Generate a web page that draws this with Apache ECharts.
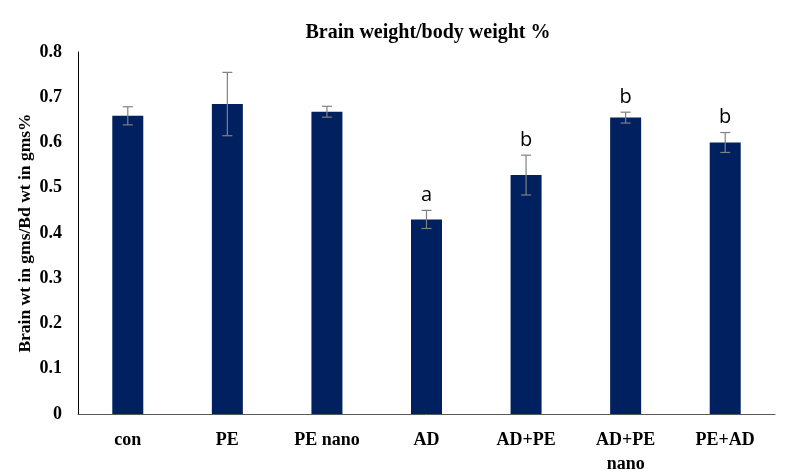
<!DOCTYPE html>
<html>
<head>
<meta charset="utf-8">
<script src="https://cdn.jsdelivr.net/npm/echarts@6/dist/echarts.min.js"></script>
<style>
  html, body { margin: 0; padding: 0; background: #fff; }
  #chart-wrapper { width: 787px; height: 476px; }
</style>
</head>
<body>
<div id="chart-wrapper"></div>
<script>
// data
const categories = ["con", "PE", "PE nano", "AD", "AD+PE", "AD+PE\nnano", "PE+AD"];
const means = [0.659, 0.685, 0.668, 0.430, 0.528, 0.655, 0.600];
const errors = [0.02, 0.07, 0.012, 0.02, 0.044, 0.012, 0.022];
const letters = ["", "", "", "a", "b", "b", "b"];

const serif = "'Liberation Serif', 'Times New Roman', serif";

const chartDom = document.getElementById("chart-wrapper");
const chart = echarts.init(chartDom);

const errData = means.map((m, i) => [i, m - errors[i], m + errors[i], letters[i]]);

const option = {
  backgroundColor: "#fff",
  animation: false,
  title: {
    text: "Brain weight/body weight %",
    left: 423,
    textAlign: "center",
    top: 18,
    textStyle: { fontFamily: serif, fontWeight: "bold", fontSize: 20, color: "#000" },
  },
  grid: { left: 78, right: 12, top: 52, bottom: 61 },
  xAxis: {
    type: "category",
    data: categories,
    axisTick: { show: false },
    axisLine: { lineStyle: { color: "#595959", width: 1 } },
    axisLabel: {
      fontFamily: serif,
      fontWeight: "bold",
      fontSize: 18,
      color: "#000",
      margin: 14,
      lineHeight: 24,
      interval: 0,
    },
  },
  yAxis: {
    type: "value",
    min: 0,
    max: 0.8,
    interval: 0.1,
    name: "Brain wt in gms/Bd wt in gms%",
    nameLocation: "middle",
    nameGap: 44,
    nameMoveOverlap: false,
    nameTextStyle: { fontFamily: serif, fontWeight: "bold", fontSize: 17.5, color: "#000" },
    axisLine: { show: true, lineStyle: { color: "#000", width: 1 } },
    axisTick: { show: false },
    splitLine: { show: false },
    axisLabel: {
      fontFamily: serif,
      fontWeight: "bold",
      fontSize: 18,
      color: "#000",
      margin: 16,
      formatter: (v) => (v === 0 ? "0" : v.toFixed(1)),
    },
  },
  series: [
    {
      type: "bar",
      data: means,
      barWidth: 31,
      itemStyle: { color: "#002060" },
    },
    {
      type: "custom",
      data: errData,
      z: 10,
      renderItem: function (params, api) {
        const x = api.value(0);
        const lo = api.coord([x, api.value(1)]);
        const hi = api.coord([x, api.value(2)]);
        const cap = 5;
        const style = { stroke: "#808080", lineWidth: 1.2 };
        const children = [
          { type: "line", shape: { x1: hi[0], y1: hi[1], x2: lo[0], y2: lo[1] }, style: style },
          { type: "line", shape: { x1: hi[0] - cap, y1: hi[1], x2: hi[0] + cap, y2: hi[1] }, style: style },
          { type: "line", shape: { x1: lo[0] - cap, y1: lo[1], x2: lo[0] + cap, y2: lo[1] }, style: style },
        ];
        const letter = api.value(3);
        if (letter) {
          children.push({
            type: "text",
            style: {
              text: letter,
              x: hi[0],
              y: hi[1] - 5,
              align: "center",
              verticalAlign: "bottom",
              fontFamily: "'Open Sans', 'Noto Sans', sans-serif",
              fontSize: 20,
              fill: "#000",
            },
          });
        }
        return { type: "group", children: children };
      },
    },
  ],
};

chart.setOption(option);
</script>
</body>
</html>
